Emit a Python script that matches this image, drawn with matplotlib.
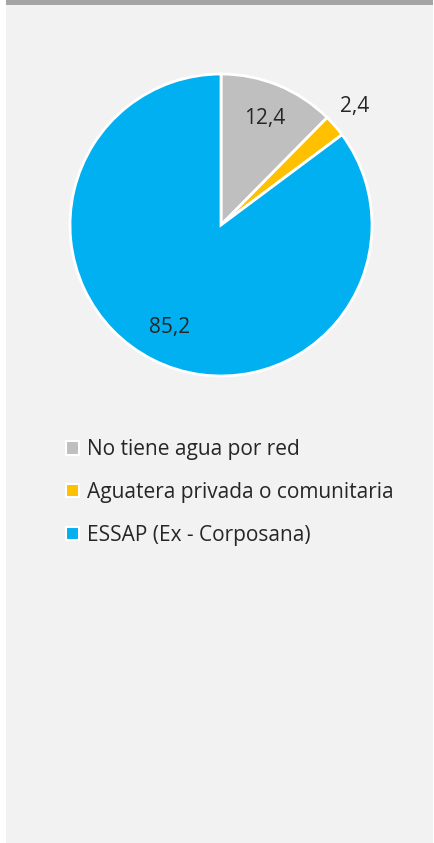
import numpy as np
import matplotlib
matplotlib.use("Agg")
import matplotlib.pyplot as plt
from matplotlib.patches import Rectangle

categories = ["No tiene agua por red", "Aguatera privada o comunitaria", "ESSAP (Ex - Corposana)"]
values = [12.4, 2.4, 85.2]
colors = ["#bfbfbf", "#ffc000", "#00b0f0"]

W, H = 435, 843
DPI = 100
plt.rcParams['font.family'] = ['Open Sans', 'DejaVu Sans']

fig = plt.figure(figsize=(W / DPI, H / DPI), dpi=DPI, facecolor="white")
# panel background
fig.patches.append(Rectangle((6 / W, 0), (433 - 6) / W, 1, transform=fig.transFigure,
                             facecolor="#f2f2f2", edgecolor="none", zorder=-10))
fig.patches.append(Rectangle((6 / W, 1 - 5 / H), (433 - 6) / W, 5 / H, transform=fig.transFigure,
                             facecolor="#a5a5a5", edgecolor="none", zorder=-9))

cx, cy, R = 221, 225, 151
ax = fig.add_axes([(cx - R) / W, 1 - (cy + R) / H, 2 * R / W, 2 * R / H])
ax.set_facecolor("none")
wedges, texts, autotexts = ax.pie(
    values, colors=colors, startangle=90, counterclock=False, radius=1,
    wedgeprops=dict(edgecolor="white", linewidth=2),
    autopct=lambda p: f"{p:.1f}".replace(".", ","), pctdistance=0.76,
    textprops=dict(fontsize=15, color="#262626"))
# small slice label outside
w = wedges[1]
ang = np.deg2rad((w.theta1 + w.theta2) / 2)
autotexts[1].set_position((1.17 * np.cos(ang), 1.2 * np.sin(ang)))
ax.set_xlim(-1, 1)
ax.set_ylim(-1, 1)
ax.set_aspect("equal")
ax.axis("off")

leg = fig.legend(wedges, categories, loc="upper left",
                 bbox_to_anchor=(58 / W, 1 - 431 / H), frameon=False,
                 fontsize=15, handlelength=0.6, handleheight=0.6,
                 handletextpad=0.4, labelspacing=1.05, labelcolor="#262626",
                 borderaxespad=0)
for h in leg.legend_handles:
    h.set_linewidth(1.5)

fig.savefig("out.png", dpi=DPI, facecolor=fig.get_facecolor())
